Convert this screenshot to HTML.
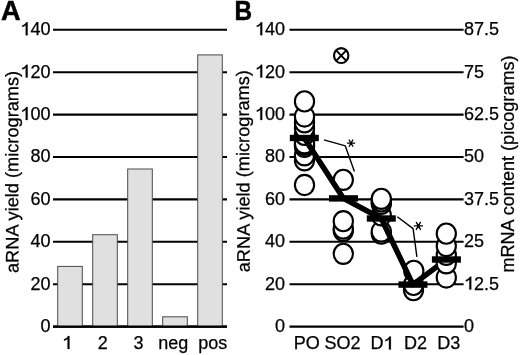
<!DOCTYPE html><html><head><meta charset="utf-8"><style>html,body{margin:0;padding:0;background:#fff;}svg{display:block;filter:grayscale(1);}text{font-family:"Liberation Sans",sans-serif;fill:#000;white-space:pre;stroke:#000;stroke-width:0.25px;}</style></head><body>
<svg width="520" height="355" viewBox="0 0 520 355">
<rect width="520" height="355" fill="#fff"/>
<text x="0.9" y="20.1" font-size="27.2" font-weight="bold" style="stroke-width:0.5px">A</text>
<text transform="translate(234.5,20.2) scale(0.9,1)" font-size="27" font-weight="bold" style="stroke-width:0.5px">B</text>
<line x1="53" y1="326.60" x2="227" y2="326.60" stroke="#000" stroke-width="2.1"/>
<text x="40.39" y="332.00" font-size="18">0</text>
<line x1="53" y1="284.20" x2="227" y2="284.20" stroke="#000" stroke-width="2.1"/>
<text x="30.38" y="289.60" font-size="18">20</text>
<line x1="53" y1="241.80" x2="227" y2="241.80" stroke="#000" stroke-width="2.1"/>
<text x="30.38" y="247.20" font-size="18">40</text>
<line x1="53" y1="199.40" x2="227" y2="199.40" stroke="#000" stroke-width="2.1"/>
<text x="30.38" y="204.80" font-size="18">60</text>
<line x1="53" y1="157.00" x2="227" y2="157.00" stroke="#000" stroke-width="2.1"/>
<text x="30.38" y="162.40" font-size="18">80</text>
<line x1="53" y1="114.60" x2="227" y2="114.60" stroke="#000" stroke-width="2.1"/>
<path transform="translate(20.37,120.00) scale(18)" d="M0.403,0L0.403,-0.716L0.328,-0.716C0.283,-0.625 0.203,-0.565 0.103,-0.540L0.103,-0.455C0.188,-0.478 0.253,-0.518 0.298,-0.565L0.298,0Z" fill="#000" stroke="#000" stroke-width="0.0139"/>
<text x="30.38" y="120.00" font-size="18">00</text>
<line x1="53" y1="72.20" x2="227" y2="72.20" stroke="#000" stroke-width="2.1"/>
<path transform="translate(20.37,77.60) scale(18)" d="M0.403,0L0.403,-0.716L0.328,-0.716C0.283,-0.625 0.203,-0.565 0.103,-0.540L0.103,-0.455C0.188,-0.478 0.253,-0.518 0.298,-0.565L0.298,0Z" fill="#000" stroke="#000" stroke-width="0.0139"/>
<text x="30.38" y="77.60" font-size="18">20</text>
<line x1="53" y1="29.80" x2="227" y2="29.80" stroke="#000" stroke-width="2.1"/>
<path transform="translate(20.37,35.20) scale(18)" d="M0.403,0L0.403,-0.716L0.328,-0.716C0.283,-0.625 0.203,-0.565 0.103,-0.540L0.103,-0.455C0.188,-0.478 0.253,-0.518 0.298,-0.565L0.298,0Z" fill="#000" stroke="#000" stroke-width="0.0139"/>
<text x="30.38" y="35.20" font-size="18">40</text>
<rect x="57.70" y="266.40" width="24.6" height="60.20" fill="#e0e0e0" stroke="#4a4a4a" stroke-width="1"/>
<rect x="92.70" y="234.70" width="24.6" height="91.90" fill="#e0e0e0" stroke="#4a4a4a" stroke-width="1"/>
<rect x="127.70" y="169.00" width="24.6" height="157.60" fill="#e0e0e0" stroke="#4a4a4a" stroke-width="1"/>
<rect x="162.70" y="316.80" width="24.6" height="9.80" fill="#e0e0e0" stroke="#4a4a4a" stroke-width="1"/>
<rect x="197.70" y="54.90" width="24.6" height="271.70" fill="#e0e0e0" stroke="#4a4a4a" stroke-width="1"/>
<line x1="53" y1="326.6" x2="227" y2="326.6" stroke="#000" stroke-width="2.1"/>
<path transform="translate(62.20,348.90) scale(18)" d="M0.403,0L0.403,-0.716L0.328,-0.716C0.283,-0.625 0.203,-0.565 0.103,-0.540L0.103,-0.455C0.188,-0.478 0.253,-0.518 0.298,-0.565L0.298,0Z" fill="#000" stroke="#000" stroke-width="0.0139"/>
<text x="97.75" y="348.90" font-size="18">2</text>
<text x="133.50" y="348.90" font-size="18">3</text>
<text x="158.30" y="348.90" font-size="18">neg</text>
<text x="198.20" y="348.90" font-size="18">pos</text>
<text transform="translate(18.45,273.0) rotate(-90.08)" font-size="18.2">aRNA yield (micrograms)</text>
<line x1="289.5" y1="326.60" x2="463.6" y2="326.60" stroke="#000" stroke-width="2.1"/>
<text x="274.99" y="332.00" font-size="18">0</text>
<text x="464.00" y="332.00" font-size="18">0</text>
<line x1="289.5" y1="284.20" x2="463.6" y2="284.20" stroke="#000" stroke-width="2.1"/>
<text x="264.98" y="289.60" font-size="18">20</text>
<path transform="translate(464.00,289.60) scale(18)" d="M0.403,0L0.403,-0.716L0.328,-0.716C0.283,-0.625 0.203,-0.565 0.103,-0.540L0.103,-0.455C0.188,-0.478 0.253,-0.518 0.298,-0.565L0.298,0Z" fill="#000" stroke="#000" stroke-width="0.0139"/>
<text x="474.01" y="289.60" font-size="18">2.5</text>
<line x1="289.5" y1="241.80" x2="463.6" y2="241.80" stroke="#000" stroke-width="2.1"/>
<text x="264.98" y="247.20" font-size="18">40</text>
<text x="464.00" y="247.20" font-size="18">25</text>
<line x1="289.5" y1="199.40" x2="463.6" y2="199.40" stroke="#000" stroke-width="2.1"/>
<text x="264.98" y="204.80" font-size="18">60</text>
<text x="464.00" y="204.80" font-size="18">37.5</text>
<line x1="289.5" y1="157.00" x2="463.6" y2="157.00" stroke="#000" stroke-width="2.1"/>
<text x="264.98" y="162.40" font-size="18">80</text>
<text x="464.00" y="162.40" font-size="18">50</text>
<line x1="289.5" y1="114.60" x2="463.6" y2="114.60" stroke="#000" stroke-width="2.1"/>
<path transform="translate(254.97,120.00) scale(18)" d="M0.403,0L0.403,-0.716L0.328,-0.716C0.283,-0.625 0.203,-0.565 0.103,-0.540L0.103,-0.455C0.188,-0.478 0.253,-0.518 0.298,-0.565L0.298,0Z" fill="#000" stroke="#000" stroke-width="0.0139"/>
<text x="264.98" y="120.00" font-size="18">00</text>
<text x="464.00" y="120.00" font-size="18">62.5</text>
<line x1="289.5" y1="72.20" x2="463.6" y2="72.20" stroke="#000" stroke-width="2.1"/>
<path transform="translate(254.97,77.60) scale(18)" d="M0.403,0L0.403,-0.716L0.328,-0.716C0.283,-0.625 0.203,-0.565 0.103,-0.540L0.103,-0.455C0.188,-0.478 0.253,-0.518 0.298,-0.565L0.298,0Z" fill="#000" stroke="#000" stroke-width="0.0139"/>
<text x="264.98" y="77.60" font-size="18">20</text>
<text x="464.00" y="77.60" font-size="18">75</text>
<line x1="289.5" y1="29.80" x2="463.6" y2="29.80" stroke="#000" stroke-width="2.1"/>
<path transform="translate(254.97,35.20) scale(18)" d="M0.403,0L0.403,-0.716L0.328,-0.716C0.283,-0.625 0.203,-0.565 0.103,-0.540L0.103,-0.455C0.188,-0.478 0.253,-0.518 0.298,-0.565L0.298,0Z" fill="#000" stroke="#000" stroke-width="0.0139"/>
<text x="264.98" y="35.20" font-size="18">40</text>
<text x="464.00" y="35.20" font-size="18">87.5</text>
<text transform="translate(249.85,272.25) rotate(-90.27)" font-size="18.2">aRNA yield (micrograms)</text>
<text transform="translate(513.6,272.6) rotate(-90)" font-size="18.1">mRNA content (picograms)</text>
<text x="293.70" y="349.40" font-size="18">PO</text>
<text x="324.60" y="349.40" font-size="18">SO2</text>
<text x="370.60" y="349.40" font-size="18">D</text>
<path transform="translate(383.60,349.40) scale(18)" d="M0.403,0L0.403,-0.716L0.328,-0.716C0.283,-0.625 0.203,-0.565 0.103,-0.540L0.103,-0.455C0.188,-0.478 0.253,-0.518 0.298,-0.565L0.298,0Z" fill="#000" stroke="#000" stroke-width="0.0139"/>
<text x="404.10" y="349.40" font-size="18">D2</text>
<text x="437.30" y="349.40" font-size="18">D3</text>
<ellipse cx="304.5" cy="185" rx="9.6" ry="10.1" fill="#fff" stroke="#000" stroke-width="2.1"/>
<ellipse cx="304.5" cy="160.3" rx="9.6" ry="10.1" fill="#fff" stroke="#000" stroke-width="2.1"/>
<ellipse cx="304.5" cy="155.3" rx="9.6" ry="10.1" fill="#fff" stroke="#000" stroke-width="2.1"/>
<ellipse cx="304.5" cy="146.8" rx="9.6" ry="10.1" fill="#fff" stroke="#000" stroke-width="2.1"/>
<ellipse cx="304.5" cy="144.8" rx="9.6" ry="10.1" fill="#fff" stroke="#000" stroke-width="2.1"/>
<ellipse cx="304.5" cy="143.3" rx="9.6" ry="10.1" fill="#fff" stroke="#000" stroke-width="2.1"/>
<ellipse cx="304.5" cy="134.9" rx="9.6" ry="10.1" fill="#fff" stroke="#000" stroke-width="2.1"/>
<ellipse cx="304.5" cy="128" rx="9.6" ry="10.1" fill="#fff" stroke="#000" stroke-width="2.1"/>
<ellipse cx="304.5" cy="122.3" rx="9.6" ry="10.1" fill="#fff" stroke="#000" stroke-width="2.1"/>
<ellipse cx="304.5" cy="116.5" rx="9.6" ry="10.1" fill="#fff" stroke="#000" stroke-width="2.1"/>
<ellipse cx="304.5" cy="101.4" rx="9.6" ry="10.1" fill="#fff" stroke="#000" stroke-width="2.1"/>
<ellipse cx="343.3" cy="253.8" rx="9.6" ry="10.1" fill="#fff" stroke="#000" stroke-width="2.1"/>
<ellipse cx="343.3" cy="230.8" rx="9.6" ry="10.1" fill="#fff" stroke="#000" stroke-width="2.1"/>
<ellipse cx="343.3" cy="228.5" rx="9.6" ry="10.1" fill="#fff" stroke="#000" stroke-width="2.1"/>
<ellipse cx="343.3" cy="221.2" rx="9.6" ry="10.1" fill="#fff" stroke="#000" stroke-width="2.1"/>
<ellipse cx="343.3" cy="179.8" rx="9.6" ry="10.1" fill="#fff" stroke="#000" stroke-width="2.1"/>
<ellipse cx="381.3" cy="233.6" rx="9.6" ry="10.1" fill="#fff" stroke="#000" stroke-width="2.1"/>
<ellipse cx="381.3" cy="231.5" rx="9.6" ry="10.1" fill="#fff" stroke="#000" stroke-width="2.1"/>
<ellipse cx="381.3" cy="215.3" rx="9.6" ry="10.1" fill="#fff" stroke="#000" stroke-width="2.1"/>
<ellipse cx="381.3" cy="203.8" rx="9.6" ry="10.1" fill="#fff" stroke="#000" stroke-width="2.1"/>
<ellipse cx="381.3" cy="201.4" rx="9.6" ry="10.1" fill="#fff" stroke="#000" stroke-width="2.1"/>
<ellipse cx="381.3" cy="198.8" rx="9.6" ry="10.1" fill="#fff" stroke="#000" stroke-width="2.1"/>
<ellipse cx="413.5" cy="290.1" rx="9.6" ry="10.1" fill="#fff" stroke="#000" stroke-width="2.1"/>
<ellipse cx="413.5" cy="284.9" rx="9.6" ry="10.1" fill="#fff" stroke="#000" stroke-width="2.1"/>
<ellipse cx="413.8" cy="270.9" rx="9.6" ry="10.1" fill="#fff" stroke="#000" stroke-width="2.1"/>
<ellipse cx="341.2" cy="55.6" rx="7.2" ry="7.45" fill="none" stroke="#000" stroke-width="2.1"/>
<path d="M336.11,50.33L346.29,60.87M346.29,50.33L336.11,60.87" stroke="#000" stroke-width="2"/>
<polyline points="304.3,138.0 343.5,198.4 381.3,218.5 412.95,284.6 446.4,259.5" fill="none" stroke="#000" stroke-width="5.5" stroke-linejoin="round"/>
<ellipse cx="446.3" cy="277.5" rx="9.6" ry="10.1" fill="#fff" stroke="#000" stroke-width="2.1"/>
<ellipse cx="446.3" cy="263.3" rx="9.6" ry="10.1" fill="#fff" stroke="#000" stroke-width="2.1"/>
<ellipse cx="446.3" cy="254.8" rx="9.6" ry="10.1" fill="#fff" stroke="#000" stroke-width="2.1"/>
<ellipse cx="446.3" cy="246" rx="9.6" ry="10.1" fill="#fff" stroke="#000" stroke-width="2.1"/>
<ellipse cx="446.3" cy="233.6" rx="9.6" ry="10.1" fill="#fff" stroke="#000" stroke-width="2.1"/>
<rect x="289.80" y="134.80" width="29" height="6.4" fill="#000"/>
<rect x="329.00" y="195.20" width="29" height="6.4" fill="#000"/>
<rect x="366.80" y="215.30" width="29" height="6.4" fill="#000"/>
<rect x="398.45" y="281.40" width="29" height="6.4" fill="#000"/>
<rect x="431.90" y="256.30" width="29" height="6.4" fill="#000"/>
<polyline points="324.0,139.8 345.3,145.9 354.4,171.5" fill="none" stroke="#000" stroke-width="1.4" stroke-linejoin="round"/>
<polyline points="397.3,216.8 413.1,228.6 416.9,256.9" fill="none" stroke="#000" stroke-width="1.4" stroke-linejoin="round"/>
<path d="M347.40,143.10L354.60,143.10M349.20,139.98L352.80,146.22M352.80,139.98L349.20,146.22" stroke="#000" stroke-width="1.35" stroke-linecap="round"/>
<circle cx="351.0" cy="143.1" r="1.1" fill="#000"/>
<path d="M414.30,225.90L422.50,225.90M416.35,222.35L420.45,229.45M420.45,222.35L416.35,229.45" stroke="#000" stroke-width="1.35" stroke-linecap="round"/>
<circle cx="418.4" cy="225.9" r="1.1" fill="#000"/>
</svg></body></html>
